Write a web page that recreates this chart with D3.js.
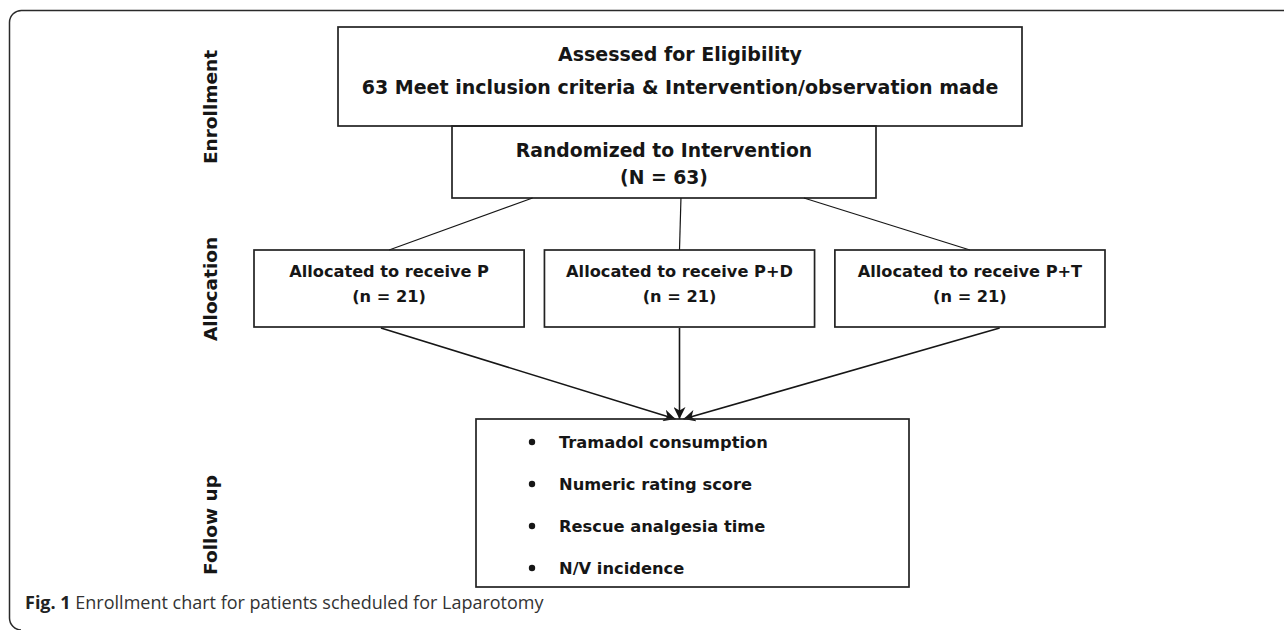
<!DOCTYPE html>
<html>
<head>
<meta charset="utf-8">
<script src="https://cdn.jsdelivr.net/npm/d3@7"></script>
<style>
  body { margin: 0; background: #fff; }
  svg { display: block; }
</style>
</head>
<body>
<div id="vis-container"></div>
<script>
const width = 1284;
const height = 630;

// Chart content
const stages = ["Enrollment", "Allocation", "Follow up"];
const enrollLines = ["Assessed for Eligibility", "63 Meet inclusion criteria & Intervention/observation made"];
const randomLines = ["Randomized to Intervention", "(N = 63)"];
const arms = ["P", "P+D", "P+T"];
const armCounts = [21, 21, 21];
const outcomes = ["Tramadol consumption", "Numeric rating score", "Rescue analgesia time", "N/V incidence"];
const captionBold = "Fig. 1";
const captionText = " Enrollment chart for patients scheduled for Laparotomy";

// Layout
const boxFont = "'DejaVu Sans', Verdana, sans-serif";
const ink = "#161616";
const layout = {
  top: { x0: 338, x1: 1022, y0: 27, y1: 126 },
  rand: { x0: 452, x1: 876, y0: 126, y1: 198 },
  arms: { x0: 254, x1: 1105, y0: 250, y1: 327 },
  follow: { x0: 476, x1: 909, y0: 419, y1: 587 },
  labelX: 217
};
const randAnchor = [0.19, 0.54, 0.83];   // where the split lines leave the randomized box
const armOut = [0.47, 0.5, 0.61];        // where the arrows leave the arm boxes
const arrowSpread = [-4, 0, 4];

const svg = d3.select("#vis-container")
  .append("svg")
  .attr("width", width)
  .attr("height", height)
  .attr("viewBox", [0, 0, width, height]);

svg.append("defs").append("marker")
  .attr("id", "head")
  .attr("viewBox", "0 0 10 10")
  .attr("refX", 10)
  .attr("refY", 5)
  .attr("markerWidth", 12)
  .attr("markerHeight", 12)
  .attr("markerUnits", "userSpaceOnUse")
  .attr("orient", "auto")
  .append("path")
  .attr("d", "M0,0 L10,5 L0,10 L3,5 Z")
  .attr("fill", ink);

// Outer frame (rounded corner on the left)
svg.append("path")
  .attr("d", `M${width},10.5 H22 A12,12 0 0 0 9.5,22.5 V618 A12,12 0 0 0 21,${height}`)
  .attr("fill", "none")
  .attr("stroke", "#2a2a2a")
  .attr("stroke-width", 1.5);

// Scales
const xArm = d3.scaleBand()
  .domain(arms)
  .range([layout.arms.x0, layout.arms.x1])
  .paddingInner(0.07);

const yStage = d3.scaleOrdinal()
  .domain(stages)
  .range([107, 289, 525]);

function box(b) {
  svg.append("rect")
    .attr("x", b.x0)
    .attr("y", b.y0)
    .attr("width", b.x1 - b.x0)
    .attr("height", b.y1 - b.y0)
    .attr("fill", "none")
    .attr("stroke", "#222")
    .attr("stroke-width", 1.7);
}

// Stage labels
svg.append("g")
  .selectAll("text")
  .data(stages)
  .join("text")
  .attr("transform", d => `translate(${layout.labelX},${yStage(d)}) rotate(-90)`)
  .attr("text-anchor", "middle")
  .attr("font-family", boxFont)
  .attr("font-weight", "bold")
  .attr("font-size", 18.5)
  .attr("fill", ink)
  .text(d => d);

// Enrollment box
box(layout.top);
const topCx = (layout.top.x0 + layout.top.x1) / 2;
svg.append("g")
  .selectAll("text")
  .data(enrollLines)
  .join("text")
  .attr("x", topCx)
  .attr("y", (d, i) => 61 + i * 33)
  .attr("text-anchor", "middle")
  .attr("font-family", boxFont)
  .attr("font-weight", "bold")
  .attr("font-size", 19)
  .attr("fill", ink)
  .text(d => d);

// Randomized box
box(layout.rand);
const randCx = (layout.rand.x0 + layout.rand.x1) / 2;
svg.append("g")
  .selectAll("text")
  .data(randomLines)
  .join("text")
  .attr("x", randCx)
  .attr("y", (d, i) => 157 + i * 27)
  .attr("text-anchor", "middle")
  .attr("font-family", boxFont)
  .attr("font-weight", "bold")
  .attr("font-size", 18.8)
  .attr("fill", ink)
  .text(d => d);

// Split lines from randomized box to arms
svg.append("g")
  .selectAll("line")
  .data(arms)
  .join("line")
  .attr("x1", (d, i) => layout.rand.x0 + randAnchor[i] * (layout.rand.x1 - layout.rand.x0))
  .attr("y1", layout.rand.y1)
  .attr("x2", d => xArm(d) + xArm.bandwidth() / 2)
  .attr("y2", layout.arms.y0)
  .attr("stroke", ink)
  .attr("stroke-width", 1.2);

// Arm boxes
const armG = svg.append("g")
  .selectAll("g")
  .data(arms)
  .join("g")
  .attr("transform", d => `translate(${xArm(d)},${layout.arms.y0})`);

armG.append("rect")
  .attr("width", xArm.bandwidth())
  .attr("height", layout.arms.y1 - layout.arms.y0)
  .attr("fill", "none")
  .attr("stroke", "#222")
  .attr("stroke-width", 1.7);

armG.append("text")
  .attr("x", xArm.bandwidth() / 2)
  .attr("y", 27)
  .attr("text-anchor", "middle")
  .attr("font-family", boxFont)
  .attr("font-weight", "bold")
  .attr("font-size", 16.2)
  .attr("fill", ink)
  .text(d => "Allocated to receive " + d);

armG.append("text")
  .attr("x", xArm.bandwidth() / 2)
  .attr("y", 52)
  .attr("text-anchor", "middle")
  .attr("font-family", boxFont)
  .attr("font-weight", "bold")
  .attr("font-size", 16.2)
  .attr("fill", ink)
  .text((d, i) => `(n = ${armCounts[i]})`);

// Arrows into follow-up box
const meetX = xArm("P+D") + xArm.bandwidth() / 2;
svg.append("g")
  .selectAll("line")
  .data(arms)
  .join("line")
  .attr("x1", (d, i) => xArm(d) + armOut[i] * xArm.bandwidth())
  .attr("y1", layout.arms.y1 + 1)
  .attr("x2", (d, i) => meetX + arrowSpread[i])
  .attr("y2", layout.follow.y0)
  .attr("stroke", ink)
  .attr("stroke-width", 1.6)
  .attr("marker-end", "url(#head)");

// Follow-up box
box(layout.follow);
const outG = svg.append("g")
  .selectAll("g")
  .data(outcomes)
  .join("g")
  .attr("transform", (d, i) => `translate(${layout.follow.x0},${layout.follow.y0 + 29 + i * 42})`);

outG.append("circle")
  .attr("cx", 56)
  .attr("cy", -6)
  .attr("r", 3.2)
  .attr("fill", ink);

outG.append("text")
  .attr("x", 83)
  .attr("font-family", boxFont)
  .attr("font-weight", "bold")
  .attr("font-size", 16.3)
  .attr("fill", ink)
  .text(d => d);

// Caption
const cap = svg.append("text")
  .attr("x", 25)
  .attr("y", 609)
  .attr("font-family", "'Open Sans', 'Noto Sans', sans-serif")
  .attr("font-size", 18)
  .attr("fill", "#333");
cap.append("tspan").attr("font-weight", "bold").attr("fill", "#222").text(captionBold);
cap.append("tspan").text(captionText);
</script>
</body>
</html>
